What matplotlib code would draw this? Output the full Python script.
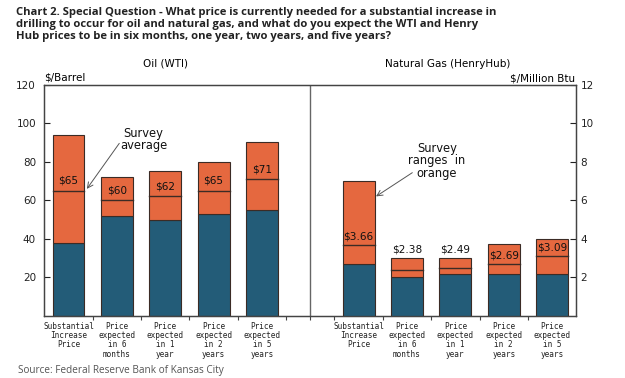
import matplotlib
matplotlib.use("Agg")
import matplotlib.pyplot as plt
import numpy as np

categories = ["Substantial\nIncrease\nPrice", "Price\nexpected\nin 6\nmonths",
              "Price\nexpected\nin 1\nyear", "Price\nexpected\nin 2\nyears",
              "Price\nexpected\nin 5\nyears"]

oil_low = [38, 52, 50, 53, 55]
oil_high = [94, 72, 75, 80, 90]
oil_avg = [65, 60, 62, 65, 71]

gas_low = [2.72, 2.0, 2.18, 2.18, 2.18]
gas_high = [7.0, 3.0, 3.0, 3.75, 4.0]
gas_avg = [3.66, 2.38, 2.49, 2.69, 3.09]

oil_ticks = [20, 40, 60, 80, 100, 120]
gas_ticks = [2, 4, 6, 8, 10, 12]

ORANGE = "#E5683F"
BLUE = "#235C78"
EDGE = "#3b2b25"
FONT = "DejaVu Sans"

fig = plt.figure(figsize=(6.25, 3.78), dpi=100)
ax = fig.add_axes([0.0709, 0.164, 0.8511, 0.6124])
ax2 = ax.twinx()

n = len(categories)
xo = np.arange(n)
xg = np.arange(n) + n + 1
w = 0.66

# oil (left scale)
ax.bar(xo, oil_low, width=w, color=BLUE, edgecolor=EDGE, linewidth=0.8, zorder=2)
ax.bar(xo, np.array(oil_high) - np.array(oil_low), bottom=oil_low, width=w,
       color=ORANGE, edgecolor=EDGE, linewidth=0.8, zorder=2)
for x, a in zip(xo, oil_avg):
    ax.plot([x - w / 2, x + w / 2], [a, a], color=EDGE, lw=1.0, zorder=3)
    ax.text(x, a + 5, f"${a}", ha="center", va="center", fontsize=7.6,
            family=FONT, zorder=4, color="#111111")

# gas (right scale)
ax2.bar(xg, gas_low, width=w, color=BLUE, edgecolor=EDGE, linewidth=0.8, zorder=2)
ax2.bar(xg, np.array(gas_high) - np.array(gas_low), bottom=gas_low, width=w,
        color=ORANGE, edgecolor=EDGE, linewidth=0.8, zorder=2)
for x, a, t in zip(xg, gas_avg, gas_high):
    ax2.plot([x - w / 2, x + w / 2], [a, a], color=EDGE, lw=1.0, zorder=3)
    y = a + 0.47
    if y + 0.25 > t:
        y = t + 0.45
    ax2.text(x, y, f"${a:.2f}", ha="center", va="center", fontsize=7.6,
             family=FONT, zorder=4, color="#111111")

total = 2 * n + 1
ax.set_xlim(-0.5, total - 0.5)
ax.set_ylim(0, 120)
ax2.set_ylim(0, 12)

ax.axvline(n, color="#666666", lw=1.0, zorder=1)

ax.set_yticks(oil_ticks)
ax.set_yticklabels([str(t) for t in oil_ticks], fontsize=7.5, family=FONT)
ax2.set_yticks(gas_ticks)
ax2.set_yticklabels([str(t) for t in gas_ticks], fontsize=7.5, family=FONT)
ax.tick_params(axis="y", direction="in", length=4, width=0.8, pad=6, colors="#222222")
ax2.tick_params(axis="y", direction="in", length=4, width=0.8, pad=3, colors="#222222")

major = [i + 0.5 for i in range(n - 1)] + [n - 0.5, n, n + 0.5] + \
        [n + 1 + i + 0.5 for i in range(n - 1)]
ax.set_xticks(major)
ax.set_xticklabels([""] * len(major))
ax.set_xticks(list(xo) + list(xg), minor=True)
ax.set_xticklabels(categories + categories, minor=True, fontsize=5.6,
                   family="DejaVu Sans Mono", linespacing=1.05, color="#222222")
ax.tick_params(axis="x", which="major", direction="out", length=3, width=0.8, colors="#444444")
ax.tick_params(axis="x", which="minor", length=0, pad=4)

for a in (ax, ax2):
    for s in a.spines.values():
        s.set_color("#444444")
        s.set_linewidth(0.9)

# annotations
ax.text(1.55, 91.6, "Survey\naverage", ha="center", va="center", fontsize=8.3,
        family=FONT, linespacing=0.95, color="#111111")
ax.annotate("", xy=(0.38, 65.9), xytext=(1.05, 89.5),
            arrowprops=dict(arrowstyle="->", color="#555555", lw=0.7,
                            shrinkA=0, shrinkB=0))
ax.text(7.62, 80.4, "Survey\nranges  in\norange", ha="center", va="center",
        fontsize=8.3, family=FONT, linespacing=0.95, color="#111111")
ax.annotate("", xy=(6.36, 62.0), xytext=(7.11, 74.3),
            arrowprops=dict(arrowstyle="->", color="#555555", lw=0.7,
                            shrinkA=0, shrinkB=0))

# panel titles / units
ax.text(2.0, 1.09, "Oil (WTI)", transform=ax.get_xaxis_transform(),
        ha="center", va="center", fontsize=7.5, family=FONT)
ax.text(7.85, 1.09, "Natural Gas (HenryHub)", transform=ax.get_xaxis_transform(),
        ha="center", va="center", fontsize=7.5, family=FONT)
ax.text(0.0, 1.008, "$/Barrel", transform=ax.transAxes, ha="left", va="bottom",
        fontsize=7.5, family=FONT)
ax.text(0.997, 1.003, "$/Million Btu", transform=ax.transAxes, ha="right", va="bottom",
        fontsize=7.5, family=FONT)

fig.text(0.025, 0.982, "Chart 2. Special Question - What price is currently needed for a substantial increase in\n"
         "drilling to occur for oil and natural gas, and what do you expect the WTI and Henry\n"
         "Hub prices to be in six months, one year, two years, and five years?",
         ha="left", va="top", fontsize=8.1, family="Open Sans", weight="bold",
         linespacing=1.13, color="#222222")
fig.text(0.029, 0.005, "Source: Federal Reserve Bank of Kansas City", ha="left",
         va="bottom", fontsize=7.2, family="Open Sans", color="#555555")

fig.savefig("out.png", dpi=100)
